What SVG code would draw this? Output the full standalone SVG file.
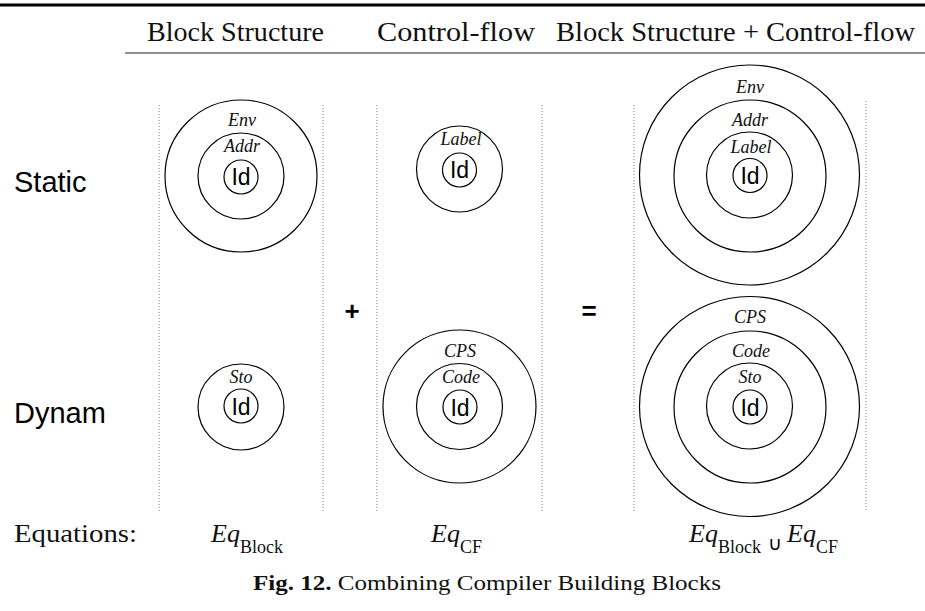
<svg xmlns="http://www.w3.org/2000/svg" width="925" height="611" viewBox="0 0 925 611">
<style>
  .ring { fill: none; stroke: #000; stroke-width: 1.2; }
  .sep { stroke: #777; stroke-width: 1; stroke-dasharray: 1 2; }
  .lbl { font-family: "Liberation Serif", "Times New Roman", serif; font-style: italic; font-size: 18px; text-anchor: middle; fill: #111; }
  .id { font-family: "Liberation Sans", Arial, sans-serif; font-size: 23px; text-anchor: middle; fill: #000; }
  .head { font-family: "Liberation Serif", "Times New Roman", serif; font-size: 27px; fill: #111; }
  .row { font-family: "Liberation Sans", Arial, sans-serif; font-size: 29px; fill: #000; }
  .op { font-family: "Liberation Sans", Arial, sans-serif; font-size: 26px; font-weight: bold; text-anchor: middle; fill: #000; }
  .eq { font-family: "Liberation Serif", "Times New Roman", serif; font-size: 26px; fill: #111; }
  .eqi { font-style: italic; }
  .sub { font-size: 18px; font-style: normal; }
  .cap { font-family: "Liberation Serif", "Times New Roman", serif; font-size: 21px; fill: #111; }
</style>

<line x1="0" y1="5" x2="925" y2="5" stroke="#000" stroke-width="3"/>
<line x1="125" y1="53" x2="925" y2="53" stroke="#222" stroke-width="1.2"/>

<text class="head" x="147" y="41" textLength="177" lengthAdjust="spacingAndGlyphs">Block Structure</text>
<text class="head" x="377" y="41" textLength="158" lengthAdjust="spacingAndGlyphs">Control-flow</text>
<text class="head" x="556" y="41" textLength="359" lengthAdjust="spacingAndGlyphs">Block Structure + Control-flow</text>

<text class="row" x="14" y="192">Static</text>
<text class="row" x="14" y="423">Dynam</text>

<g id="separators">
  <line class="sep" x1="159" y1="105" x2="159" y2="512"/>
  <line class="sep" x1="323" y1="105" x2="323" y2="512"/>
  <line class="sep" x1="377" y1="105" x2="377" y2="512"/>
  <line class="sep" x1="542" y1="105" x2="542" y2="512"/>
  <line class="sep" x1="634" y1="105" x2="634" y2="512"/>
  <line class="sep" x1="866" y1="101" x2="866" y2="510"/>
</g>

<g id="block-static">
  <circle class="ring" cx="241" cy="176" r="76"/>
  <circle class="ring" cx="241" cy="176" r="43"/>
  <circle class="ring" cx="241" cy="177" r="17"/>
  <text class="lbl" x="242" y="126">Env</text>
  <text class="lbl" x="242" y="152">Addr</text>
  <text class="id" x="241" y="185">Id</text>
</g>

<g id="cf-static">
  <circle class="ring" cx="459.5" cy="169" r="43"/>
  <circle class="ring" cx="459.5" cy="170" r="17"/>
  <text class="lbl" x="461" y="145">Label</text>
  <text class="id" x="459.5" y="178">Id</text>
</g>

<g id="combined-static">
  <circle class="ring" cx="749.5" cy="175" r="110"/>
  <circle class="ring" cx="750" cy="176" r="76"/>
  <circle class="ring" cx="749.5" cy="175" r="43"/>
  <circle class="ring" cx="750" cy="175.5" r="17"/>
  <text class="lbl" x="750" y="93">Env</text>
  <text class="lbl" x="750" y="126">Addr</text>
  <text class="lbl" x="751" y="153">Label</text>
  <text class="id" x="750" y="184">Id</text>
</g>

<g id="block-dynamic">
  <circle class="ring" cx="241" cy="407" r="43"/>
  <circle class="ring" cx="241" cy="406" r="17"/>
  <text class="lbl" x="241" y="383">Sto</text>
  <text class="id" x="241" y="415">Id</text>
</g>

<g id="cf-dynamic">
  <circle class="ring" cx="459.5" cy="406.5" r="76.5"/>
  <circle class="ring" cx="459.5" cy="406.5" r="43"/>
  <circle class="ring" cx="460" cy="407" r="17"/>
  <text class="lbl" x="460" y="357">CPS</text>
  <text class="lbl" x="461" y="383">Code</text>
  <text class="id" x="460" y="416">Id</text>
</g>

<g id="combined-dynamic">
  <circle class="ring" cx="749.5" cy="406.5" r="110"/>
  <circle class="ring" cx="750" cy="407" r="76"/>
  <circle class="ring" cx="749.5" cy="406" r="43"/>
  <circle class="ring" cx="750" cy="407" r="17"/>
  <text class="lbl" x="750" y="323">CPS</text>
  <text class="lbl" x="751" y="357">Code</text>
  <text class="lbl" x="750" y="383">Sto</text>
  <text class="id" x="750" y="416">Id</text>
</g>

<text class="op" x="352" y="320">+</text>
<text class="op" x="589" y="320">=</text>

<text class="eq" x="14" y="542" textLength="123" lengthAdjust="spacingAndGlyphs">Equations:</text>
<text class="eq" x="211" y="542"><tspan class="eqi">Eq</tspan><tspan class="sub" dy="11">Block</tspan></text>
<text class="eq" x="431" y="542"><tspan class="eqi">Eq</tspan><tspan class="sub" dy="11">CF</tspan></text>
<text class="eq" x="689" y="542"><tspan class="eqi">Eq</tspan><tspan class="sub" dy="11">Block</tspan></text>
<text x="775" y="550" font-family="DejaVu Sans, sans-serif" font-size="19" text-anchor="middle">∪</text>
<text class="eq" x="787" y="542"><tspan class="eqi">Eq</tspan><tspan class="sub" dy="11">CF</tspan></text>

<text class="cap" x="253" y="590" textLength="468" lengthAdjust="spacingAndGlyphs"><tspan font-weight="bold">Fig. 12.</tspan> Combining Compiler Building Blocks</text>
</svg>
